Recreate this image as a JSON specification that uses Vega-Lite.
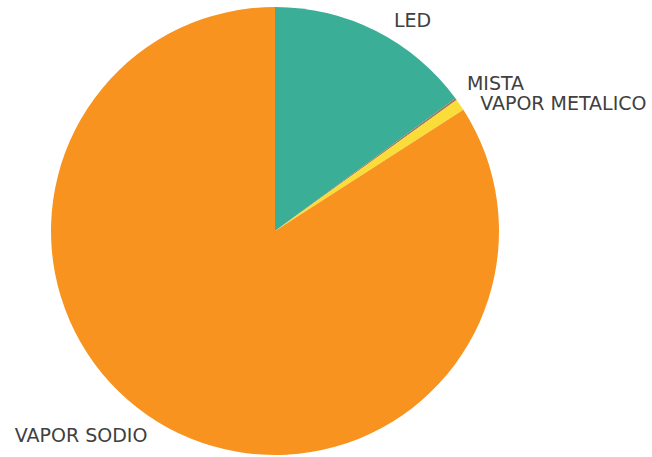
{
  "$schema": "https://vega.github.io/schema/vega-lite/v6.json",
  "width": 550,
  "height": 462,
  "padding": {"left": 0, "top": 0, "right": 102, "bottom": 0},
  "autosize": "none",
  "background": "white",
  "view": {"stroke": null},
  "data": {"values": [
    {"tipo": "LED", "valor": 149, "ord": 1},
    {"tipo": "MISTA", "valor": 1.5, "ord": 2},
    {"tipo": "VAPOR METALICO", "valor": 8.5, "ord": 3},
    {"tipo": "VAPOR SODIO", "valor": 841, "ord": 4}
  ]},
  "encoding": {
    "theta": {"field": "valor", "type": "quantitative", "stack": true},
    "order": {"field": "ord", "type": "quantitative"},
    "color": {
      "field": "tipo", "type": "nominal", "legend": null,
      "scale": {"domain": ["LED", "MISTA", "VAPOR METALICO", "VAPOR SODIO"],
                "range": ["#3aae96", "#a0785a", "#fbdd3a", "#f8931f"]}
    }
  },
  "layer": [
    {"mark": {"type": "arc", "outerRadius": 224}},
    {
      "mark": {"type": "text", "radius": 235, "align": "left", "baseline": "middle", "dx": 13, "font": "DejaVu Sans", "fontSize": 19},
      "encoding": {"text": {"condition": {"test": "datum.tipo == 'LED'", "field": "tipo"}, "value": ""}, "color": {"value": "#404040"}}
    },
    {
      "mark": {"type": "text", "radius": 235, "align": "left", "baseline": "middle", "dx": 2, "dy": -9, "font": "DejaVu Sans", "fontSize": 19},
      "encoding": {"text": {"condition": {"test": "datum.tipo == 'MISTA'", "field": "tipo"}, "value": ""}, "color": {"value": "#404040"}}
    },
    {
      "mark": {"type": "text", "radius": 235, "align": "left", "baseline": "middle", "dx": 11, "dy": 5, "font": "DejaVu Sans", "fontSize": 19},
      "encoding": {"text": {"condition": {"test": "datum.tipo == 'VAPOR METALICO'", "field": "tipo"}, "value": ""}, "color": {"value": "#404040"}}
    },
    {
      "mark": {"type": "text", "radius": 235, "align": "right", "baseline": "middle", "dx": -15, "dy": -1, "font": "DejaVu Sans", "fontSize": 19},
      "encoding": {"text": {"condition": {"test": "datum.tipo == 'VAPOR SODIO'", "field": "tipo"}, "value": ""}, "color": {"value": "#404040"}}
    }
  ]
}
